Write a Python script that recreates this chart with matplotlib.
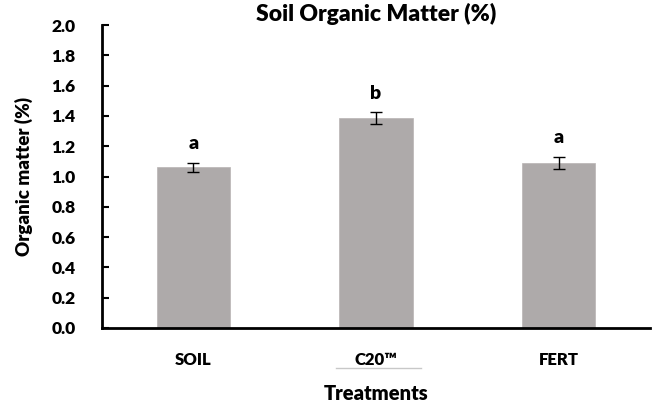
import matplotlib
matplotlib.use("Agg")
import matplotlib.pyplot as plt
from matplotlib.lines import Line2D

categories = ["SOIL", "C20\u2122", "FERT"]
values = [1.06, 1.385, 1.09]
errors = [0.03, 0.04, 0.04]
letters = ["a", "b", "a"]
yticks = [0.0, 0.2, 0.4, 0.6, 0.8, 1.0, 1.2, 1.4, 1.6, 1.8, 2.0]

plt.rcParams['font.family'] = ['Lato', 'DejaVu Sans']
W = "heavy"

fig = plt.figure(figsize=(6.55, 4.03), dpi=100)
ax = fig.add_axes([102/655, 1 - 328/403, 548/655, 303/403])

x = list(range(len(categories)))
ax.bar(x, values, width=0.40, color="#aeaaaa", edgecolor="#b8b4b4", linewidth=0.5,
       yerr=errors, capsize=4, error_kw=dict(ecolor="black", elinewidth=1, capthick=1))
for xi, v, e, l in zip(x, values, errors, letters):
    ax.text(xi, v + e + 0.07, l, ha="center", va="bottom", fontsize=14, fontweight=W)

ax.set_xlim(-0.5, 2.5)
ax.set_ylim(0, 2.0)
ax.set_yticks(yticks)
ax.set_yticklabels([f"{t:.1f}" for t in yticks], fontsize=12.5, fontweight=W)
ax.set_xticks(x)
ax.set_xticklabels(categories, fontsize=12, fontweight=W)
ax.tick_params(axis="y", direction="in", length=5, width=1.5, pad=19)
ax.tick_params(axis="x", length=0, pad=17)
for s in ["top", "right"]:
    ax.spines[s].set_visible(False)
ax.spines["left"].set_linewidth(2)
ax.spines["bottom"].set_linewidth(2)

ax.set_title("Soil Organic Matter (%)", fontsize=16.5, fontweight=W, pad=-6)
ax.set_ylabel("Organic matter (%)", fontsize=13.5, fontweight=W, labelpad=13)
ax.set_xlabel("Treatments", fontsize=14.5, fontweight=W, labelpad=12)

fig.add_artist(Line2D([336/655, 421/655], [1 - 368/403, 1 - 368/403], color="#c8c8c8", linewidth=1))

fig.savefig("out.png", dpi=100)
